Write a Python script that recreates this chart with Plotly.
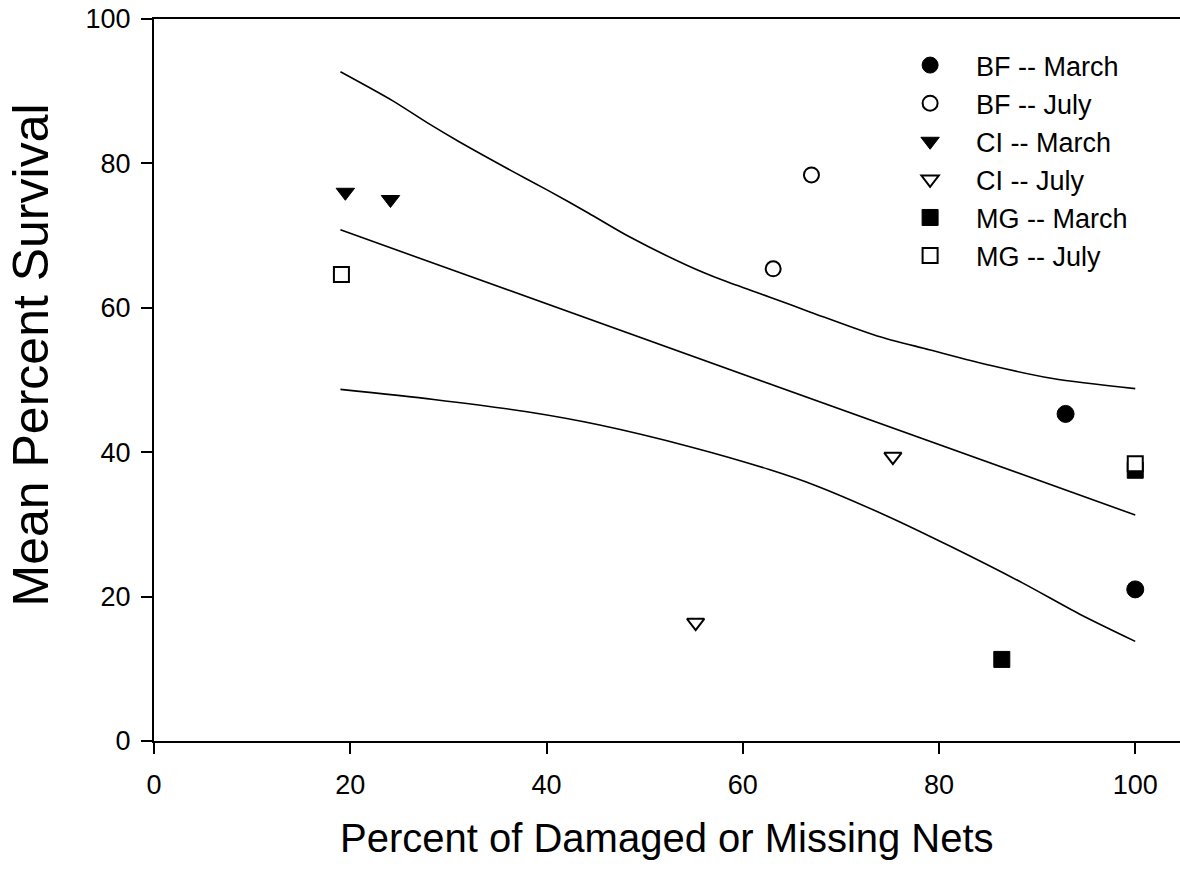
import plotly.graph_objects as go

# ---- data ----
bf_march_x = [92.9, 100.0]
bf_march_y = [45.3, 21.0]
bf_july_x = [63.1, 67.0]
bf_july_y = [65.4, 78.4]
ci_march_x = [19.5, 24.1]
ci_march_y = [76.0, 75.0]
ci_july_x = [55.2, 75.3]
ci_july_y = [16.4, 39.4]
mg_march_x = [86.4, 100.0]
mg_march_y = [11.3, 37.5]
mg_july_x = [19.1, 100.0]
mg_july_y = [64.6, 38.4]

fit_x = [19.0, 100.0]
fit_y = [70.8, 31.3]

upper_x = [19.0, 24.3, 28.0, 31.1, 36.4, 40.1, 44.3, 48.5, 54.3, 58.0, 62.7, 66.9, 73.7, 79.0, 85.3, 91.6, 100.0]
upper_y = [92.7, 88.7, 85.5, 83.0, 79.0, 76.3, 73.1, 69.8, 65.9, 63.8, 61.5, 59.4, 56.1, 54.2, 52.0, 50.2, 48.8]
lower_x = [19.0, 28.5, 38.0, 45.3, 54.8, 62.7, 67.4, 74.8, 81.1, 88.5, 94.3, 100.0]
lower_y = [48.7, 47.3, 45.6, 43.8, 40.7, 37.6, 35.4, 31.1, 27.0, 21.9, 17.6, 13.8]

x_ticks = [0, 20, 40, 60, 80, 100]
y_ticks = [0, 20, 40, 60, 80, 100]

FONT = "Arial, 'Liberation Sans', sans-serif"

fig = go.Figure()

for lx, ly in [(fit_x, fit_y), (upper_x, upper_y), (lower_x, lower_y)]:
    fig.add_trace(go.Scatter(x=lx, y=ly, mode="lines", showlegend=False,
                             line=dict(color="black", width=1.6, shape="spline", smoothing=0.8),
                             hoverinfo="skip"))

series = [
    ("BF -- March", bf_march_x, bf_march_y, "circle", "black", 17),
    ("BF -- July", bf_july_x, bf_july_y, "circle", "white", 15),
    ("CI -- March", ci_march_x, ci_march_y, "triangle-down", "black", 16),
    ("CI -- July", ci_july_x, ci_july_y, "triangle-down", "white", 15),
    ("MG -- March", mg_march_x, mg_march_y, "square", "black", 16),
    ("MG -- July", mg_july_x, mg_july_y, "square", "white", 15),
]
for name, sx, sy, sym, fill, size in series:
    fig.add_trace(go.Scatter(
        x=sx, y=sy, mode="markers", name=name,
        marker=dict(symbol=sym, color=fill, size=size,
                    line=dict(color="black", width=2 if fill == "white" else 1)),
    ))

axis_common = dict(
    showline=True, linecolor="black", linewidth=2,
    ticks="outside", ticklen=11, tickwidth=2, tickcolor="black",
    showgrid=False, zeroline=False, ticklabeloverflow="allow",
    tickfont=dict(family=FONT, size=27, color="black"),
)

fig.update_layout(
    width=1180, height=871,
    margin=dict(l=154, r=0, t=19, b=130),
    paper_bgcolor="white", plot_bgcolor="white",
    font=dict(family=FONT, color="black"),
    xaxis=dict(range=[0, 104.56], tickvals=x_ticks, mirror=True,
               ticklabelstandoff=8, **axis_common),
    yaxis=dict(range=[0, 100], tickvals=y_ticks, ticklabelstandoff=5, **axis_common),
    legend=dict(x=0.7116, y=0.9695, xanchor="left", yanchor="top",
                font=dict(family=FONT, size=27, color="black"),
                bgcolor="rgba(0,0,0,0)", itemwidth=82, tracegroupgap=0),
    showlegend=True,
    annotations=[
        dict(text="Percent of Damaged or Missing Nets", xref="paper", yref="paper",
             x=0.5, y=-0.1348, xanchor="center", yanchor="middle", showarrow=False,
             font=dict(family=FONT, size=40, color="black")),
        dict(text="Mean Percent Survival", xref="paper", yref="paper",
             x=-0.1196, y=0.5344, xanchor="center", yanchor="middle", showarrow=False,
             textangle=-90, font=dict(family=FONT, size=50, color="black")),
    ],
)

fig.write_html("out.html", config={"displayModeBar": False},
               post_script="document.body.style.margin='0px';document.body.style.padding='0px';")
